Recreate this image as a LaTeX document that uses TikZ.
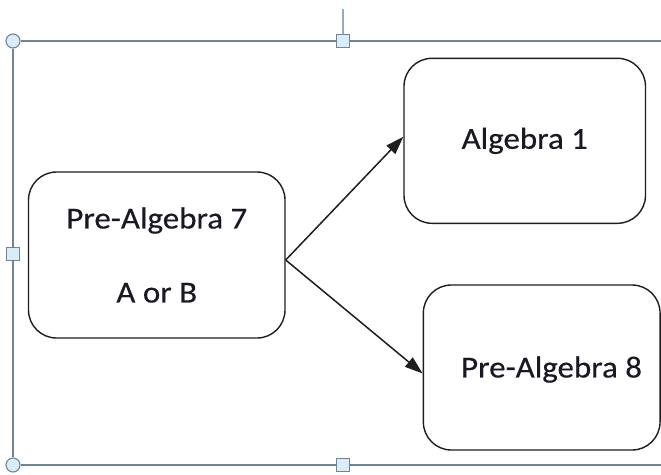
\documentclass[tikz,border=0pt]{standalone}
\usepackage{fontspec}
\setmainfont{Carlito}[FakeStretch=1.08,FakeBold=0.4]
\usetikzlibrary{arrows.meta,calc}
\definecolor{framec}{RGB}{112,132,152}
\definecolor{handlefill}{RGB}{218,236,247}
\definecolor{rotc}{RGB}{150,170,192}
\definecolor{boxc}{RGB}{30,30,30}
\definecolor{txtc}{RGB}{25,25,35}
\tikzset{
  box/.style={draw=boxc, line width=1.4pt, rounded corners=28pt, rectangle, fill=white,
    text=txtc, align=center, inner sep=0pt,
    font=\fontsize{30.5}{37}\selectfont},
  conn/.style={draw=boxc, line width=1.5pt, -{Triangle[length=18pt,width=12pt]}},
  canvasline/.style={draw=framec, line width=1.5pt},
  rhandle/.style={draw=framec, fill=handlefill, line width=1.1pt, circle, minimum size=14pt, inner sep=0pt},
  shandle/.style={draw=framec, fill=handlefill, line width=1.1pt, rectangle, minimum size=13pt, inner sep=0pt}
}
\begin{document}
\begin{tikzpicture}[x=1pt,y=-1pt]
\useasboundingbox[fill=white] (0,0) rectangle (661,474);
% canvas frame
\coordinate (tr) at (661,41);
\coordinate (br) at (661,465);
\coordinate (rtop) at (343,9);
\node[rhandle] (htl) at (13,41) {};
\node[rhandle] (hbl) at (13,465) {};
\node[shandle] (htm) at (343,41) {};
\node[shandle] (hlm) at (13,254) {};
\node[shandle] (hbm) at (343,465) {};
\draw[canvasline] (htl.east) -- (htm.west);
\draw[canvasline] (htm.east) -- (tr);
\draw[canvasline] (htl.south) -- (hlm.north);
\draw[canvasline] (hlm.south) -- (hbl.north);
\draw[canvasline] (hbl.east) -- (hbm.west);
\draw[canvasline] (hbm.east) -- (br);
\draw[draw=rotc, line width=2pt] (rtop) -- (htm.north);
% boxes
\node[box, minimum width=256.5pt, minimum height=166pt] (L) at (156.75,255) {Pre-Algebra 7\\[37pt]A or B};
\node[box, minimum width=241.5pt, minimum height=165pt] (A) at (524.75,140.8) {Algebra 1};
\node[box, minimum width=236.7pt, minimum height=165pt] (B) at (541.7,367.5) {};
\node[text=txtc, font=\fontsize{30.5}{37}\selectfont, inner sep=0pt] (Bt) at (551.5,369.5) {Pre-Algebra 8};
% connectors
\coordinate (s) at ($(L.east)+(0,5)$);
\coordinate (ea) at ($(A.west)+(0,-4)$);
\coordinate (eb) at ($(B.west)+(0,6)$);
\draw[conn] (s) -- (ea);
\draw[conn] (s) -- (eb);
\end{tikzpicture}
\end{document}
